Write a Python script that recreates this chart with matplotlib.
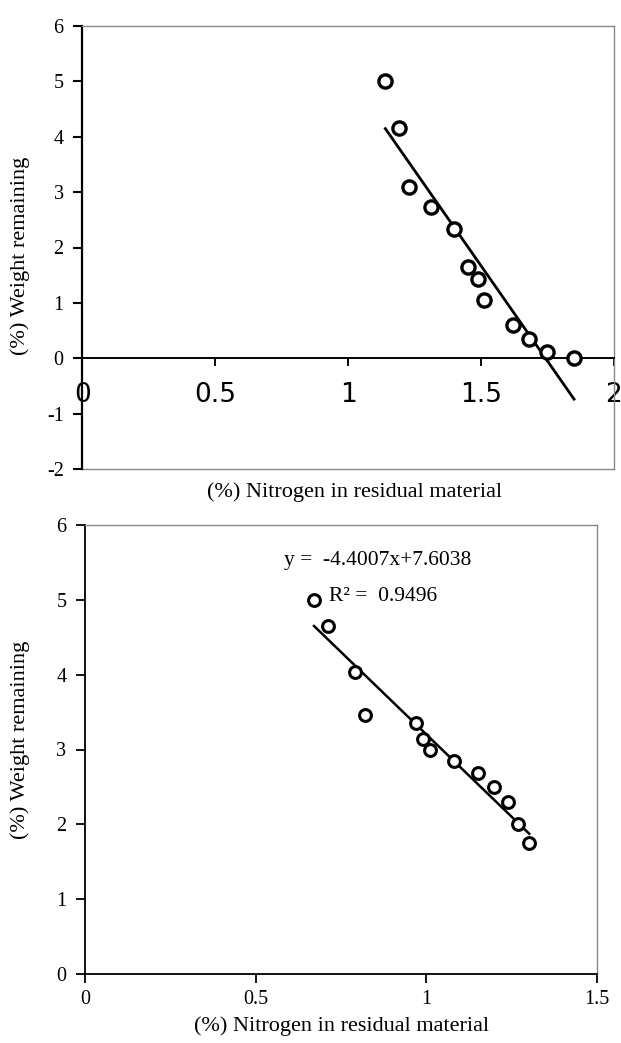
import numpy as np
import matplotlib.pyplot as plt

plt.rcParams['axes.unicode_minus'] = False
plt.rcParams['font.family'] = 'Liberation Serif'

# top panel: weight remaining vs nitrogen
n_top = [1.14, 1.19, 1.23, 1.31, 1.40, 1.45, 1.49, 1.51, 1.62, 1.68, 1.75, 1.85]
w_top = [5.00, 4.15, 3.10, 2.73, 2.34, 1.65, 1.44, 1.05, 0.60, 0.34, 0.11, 0.00]
fit_top = [-6.88, 11.99]  # slope, intercept

# bottom panel
n_bot = [0.671, 0.711, 0.791, 0.821, 0.969, 0.990, 1.010, 1.082, 1.152, 1.200, 1.240, 1.269, 1.302]
w_bot = [5.00, 4.65, 4.04, 3.46, 3.35, 3.14, 2.99, 2.85, 2.69, 2.50, 2.30, 2.00, 1.75]
fit_bot = [-4.4007, 7.6038]
r2_bot = 0.9496

xlab = "(%) Nitrogen in residual material"
ylab = "(%) Weight remaining"

W, H = 621, 1043
fig = plt.figure(figsize=(W / 100, H / 100), dpi=100)


def px(x0, y0, x1, y1):
    return [x0 / W, 1 - y1 / H, (x1 - x0) / W, (y1 - y0) / H]


# ---- top ----
ax1 = fig.add_axes(px(82.4, 26, 613.9, 469))
ax1.plot(n_top, w_top, 'o', ms=9.5, mfc='white', mec='black', mew=2.4, zorder=3)
xx = np.array([min(n_top), max(n_top)])
ax1.plot(xx, fit_top[0] * xx + fit_top[1], color='black', lw=2.0, zorder=2)
ax1.set_xlim(0, 2)
ax1.set_ylim(-2, 6)
ax1.spines['bottom'].set_position(('data', 0))
ax1.spines['bottom'].set_linewidth(1.4)
ax1.spines['left'].set_linewidth(1.6)
for s in ['top', 'right']:
    ax1.spines[s].set_color('#888888')
    ax1.spines[s].set_linewidth(1.0)
ax1.axhline(-2, color='#888888', lw=1.0, clip_on=False, zorder=1)
ax1.set_xticks([0, 0.5, 1, 1.5, 2])
ax1.set_xticklabels(['0', '0.5', '1', '1.5', '2'], family='DejaVu Sans', fontsize=19)
ax1.set_yticks(range(-2, 7))
ax1.tick_params(axis='x', direction='out', length=6, width=1.4, pad=11)
ax1.tick_params(axis='y', direction='out', length=6.5, width=1.5, pad=7, labelsize=14.5)
fig.text(354.5 / W, 1 - 491.7 / H, xlab, ha='center', va='center', fontsize=16)
fig.text(20 / W, 1 - 256 / H, ylab, ha='center', va='center', rotation=90, fontsize=16)

# ---- bottom ----
ax2 = fig.add_axes(px(85.1, 525, 596.8, 974))
ax2.plot(n_bot, w_bot, 'o', ms=8.5, mfc='white', mec='black', mew=2.2, zorder=3)
xb = np.array([min(n_bot), max(n_bot)])
ax2.plot(xb, fit_bot[0] * xb + fit_bot[1], color='black', lw=1.8, zorder=2)
ax2.set_xlim(0, 1.5)
ax2.set_ylim(0, 6)
for s in ['top', 'right']:
    ax2.spines[s].set_color('#888888')
    ax2.spines[s].set_linewidth(1.0)
ax2.spines['left'].set_linewidth(1.3)
ax2.spines['bottom'].set_linewidth(1.3)
ax2.set_xticks([0, 0.5, 1, 1.5])
ax2.set_xticklabels(['0', '0.5', '1', '1.5'])
ax2.set_yticks(range(0, 7))
ax2.tick_params(direction='out', length=6.5, width=1.3, labelsize=14.5)
ax2.tick_params(axis='x', pad=5)
ax2.tick_params(axis='y', pad=7)
ax2.text(0.584, 5.53, "y =  %.4fx+%.4f" % (fit_bot[0], fit_bot[1]), fontsize=15.5,
         va='center', ha='left')
ax2.text(0.716, 5.05, "R² =  %.4f" % r2_bot, fontsize=15.5, va='center', ha='left')
fig.text(342 / W, 1 - 1025.7 / H, xlab, ha='center', va='center', fontsize=16)
fig.text(20 / W, 1 - 740 / H, ylab, ha='center', va='center', rotation=90, fontsize=16)

fig.savefig('out.png', dpi=100)
